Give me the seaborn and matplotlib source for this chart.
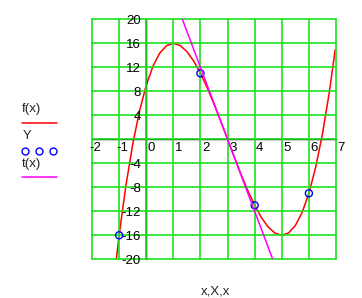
import matplotlib
matplotlib.use("Agg")
import matplotlib.pyplot as plt
import seaborn as sns
from matplotlib.transforms import ScaledTranslation
from matplotlib.lines import Line2D

# ---- data ----
x_f = [-1.25, -1.0, -0.75, -0.5, -0.25, 0.0, 0.25, 0.5, 0.75, 1.0, 1.25, 1.5, 1.75,
       2.0, 2.25, 2.5, 2.75, 3.0, 3.25, 3.5, 3.75, 4.0, 4.25, 4.5, 4.75, 5.0,
       5.25, 5.5, 5.75, 6.0, 6.25, 6.5, 6.75, 6.97]
f_vals = [-25.77, -16.0, -7.73, -0.875, 4.67, 9.0, 12.2, 14.375, 15.61, 16.0, 15.64,
          14.625, 13.05, 11.0, 8.58, 5.875, 2.98, 0.0, -2.98, -5.875, -8.58, -11.0,
          -13.05, -14.625, -15.64, -16.0, -15.61, -14.375, -12.2, -9.0, -4.67, 0.875,
          7.73, 14.93]
x_pts = [-1, 2, 4, 6]
y_pts = [-16, 11, -11, -9]
x_t = [1.25, 4.75]
t_vals = [21, -21]
x_ticks = [-2, -1, 0, 1, 2, 3, 4, 5, 6, 7]
x_tick_labels = ["-2", "-1", "0", "1", "2", "3", "4", "5", "6", "7"]
y_ticks = [-20, -16, -12, -8, -4, 0, 4, 8, 12, 16, 20]
y_tick_labels = ["-20", "-16", "-12", "-8", "-4", "", "4", "8", "12", "16", "20"]
legend_labels = ["f(x)", "Y", "t(x)"]
x_label = "x,X,x"

sns.set_style("white")
plt.rcParams["font.family"] = ["Liberation Sans", "DejaVu Sans"]

W, H = 362, 298
fig = plt.figure(figsize=(W / 100, H / 100), dpi=100)
ax = fig.add_axes([92 / W, 1 - 259.3 / H, 244 / W, 240 / H])

GREEN = "#1ee01e"
RED = "#ff0000"
MAG = "#ff00ff"
BLUE = "#0000ff"

sns.lineplot(x=x_f, y=f_vals, ax=ax, color=RED, lw=1.1, sort=False, estimator=None)
sns.scatterplot(x=x_pts, y=y_pts, ax=ax, marker="o", s=26, facecolors="none",
                edgecolor=BLUE, linewidth=1.0, zorder=3)
sns.lineplot(x=x_t, y=t_vals, ax=ax, color=MAG, lw=1.1, sort=False, estimator=None, zorder=4)

ax.set_xlim(-2, 7)
ax.set_ylim(-20, 20)
ax.set_xticks(x_ticks, x_tick_labels)
ax.set_yticks(y_ticks, y_tick_labels)
ax.set_xlabel("")
ax.set_ylabel("")

for s in ["top", "right"]:
    ax.spines[s].set_visible(False)
for s in ["left", "bottom"]:
    ax.spines[s].set_position("zero")
    ax.spines[s].set_color("black")
    ax.spines[s].set_linewidth(1.0)
    ax.spines[s].set_zorder(2.5)

ax.tick_params(axis="both", direction="inout", length=4.5, width=1.0, color="black",
               labelsize=9.5, labelcolor="black")
ax.tick_params(axis="x", pad=0)
ax.tick_params(axis="y", pad=1.5)

ax.grid(True, color=GREEN, lw=1.2)
ax.set_axisbelow(False)
for t in ax.xaxis.get_major_ticks() + ax.yaxis.get_major_ticks():
    t.gridline.set_clip_on(False)
    t.gridline.set_zorder(1)

for lbl, v in zip(ax.get_xticklabels(), x_ticks):
    lbl.set_ha("left")
    dx = -0.03 if v < 0 else 0.015
    lbl.set_transform(lbl.get_transform() + ScaledTranslation(dx, 0, fig.dpi_scale_trans))

fig.text(216 / W, 1 - 291 / H, x_label, ha="center", va="center", fontsize=9.5)

# legend (Mathcad style, left of plot)
def fy(py):
    return 1 - py / H

fig.text(22 / W, fy(109), legend_labels[0], ha="left", va="center", fontsize=9.5)
fig.add_artist(Line2D([22 / W, 57 / W], [fy(123), fy(123)], color=RED, lw=1.1,
                      transform=fig.transFigure))
fig.text(23 / W, fy(136), legend_labels[1], ha="left", va="center", fontsize=9.5)
fig.add_artist(Line2D([25 / W, 39 / W, 53 / W], [fy(150.7)] * 3, ls="none", marker="o",
                      markersize=5, markerfacecolor="none", markeredgecolor=BLUE,
                      markeredgewidth=1.0, transform=fig.transFigure))
fig.text(22 / W, fy(164), legend_labels[2], ha="left", va="center", fontsize=9.5)
fig.add_artist(Line2D([22 / W, 57 / W], [fy(177), fy(177)], color=MAG, lw=1.1,
                      transform=fig.transFigure))

fig.savefig("out.png", dpi=100)
